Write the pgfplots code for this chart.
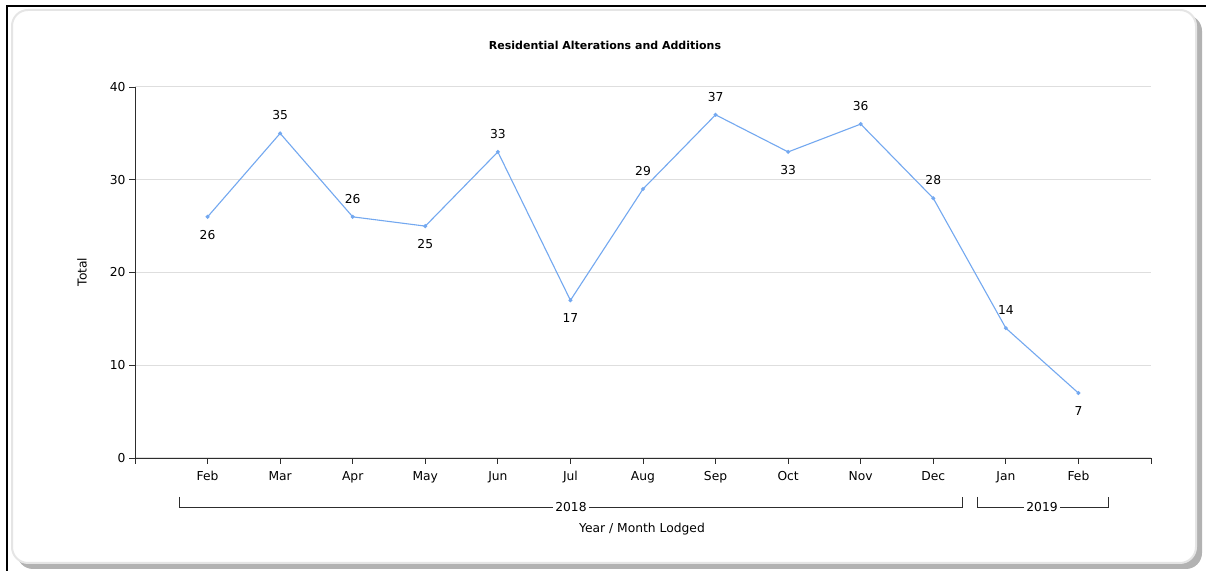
\documentclass[border=0pt]{standalone}
\usepackage{pgfplots}
\pgfplotsset{compat=1.18}
\usepackage{fontspec}
\setmainfont{DejaVu Sans}
\definecolor{linec}{RGB}{115,168,240}
\definecolor{gridc}{RGB}{222,222,222}
\definecolor{axc}{RGB}{45,45,45}
\newcommand{\lbl}{\fontsize{12.3bp}{14bp}\selectfont}
\newcommand{\ttl}{\fontsize{11bp}{13bp}\selectfont}
\begin{document}
\begin{tikzpicture}[x=1bp,y=1bp]
\path[use as bounding box] (0,0) rectangle (1206,571);
\fill[black!30, rounded corners=16bp] (17,2) rectangle (1202,556);
\fill[white, draw=black!10, line width=2bp, rounded corners=16bp] (12,8) rectangle (1196,561);
\draw[black, line width=1.2bp] (7,0) -- (7,565) -- (1206,565);
\begin{axis}[
  at={(135bp,113bp)}, anchor=south west,
  scale only axis, width=1016bp, height=371bp,
  xmin=0, xmax=14, ymin=0, ymax=40,
  axis x line*=bottom, axis y line*=left,
  axis line style={axc, line width=0.9bp, -},
  xtick={0,...,14},
  xticklabels={,Feb,Mar,Apr,May,Jun,Jul,Aug,Sep,Oct,Nov,Dec,Jan,Feb,},
  ytick={0,10,20,30,40},
  tick align=outside, major tick length=6bp,
  tick style={axc, line width=0.9bp},
  ymajorgrids, grid style={gridc, line width=1bp},
  /pgf/number format/assume math mode=true,
  ticklabel style={font=\lbl, text=black},
  xticklabel style={yshift=-4bp},
  clip=false,
]
\addplot[linec, line width=1.1bp, mark=*, mark size=1.4bp, mark options={fill=linec, draw=linec}]
  coordinates {(1,26) (2,35) (3,26) (4,25) (5,33) (6,17) (7,29) (8,37) (9,33) (10,36) (11,28) (12,14) (13,7)};
\addplot[draw=none, nodes near coords, every node near coord/.append style={font=\lbl, anchor=center, yshift=18bp}]
  coordinates {(2,35) (3,26) (5,33) (7,29) (8,37) (10,36) (11,28) (12,14)};
\addplot[draw=none, nodes near coords, every node near coord/.append style={font=\lbl, anchor=center, yshift=-18bp}]
  coordinates {(1,26) (4,25) (6,17) (9,33) (13,7)};
\end{axis}
\node[font=\bfseries\ttl] at (605,526) {Residential Alterations and Additions};
\node[font=\lbl, rotate=90] at (82,299) {Total};
\node[font=\lbl] at (642,42) {Year / Month Lodged};
\draw[axc, line width=0.9bp] (179,74) -- (179,64) -- (962,64) -- (962,74);
\node[font=\lbl, fill=white, inner sep=2bp] at (571,64) {2018};
\draw[axc, line width=0.9bp] (977,74) -- (977,64) -- (1108,64) -- (1108,74);
\node[font=\lbl, fill=white, inner sep=2bp] at (1042,64) {2019};
\end{tikzpicture}
\end{document}
